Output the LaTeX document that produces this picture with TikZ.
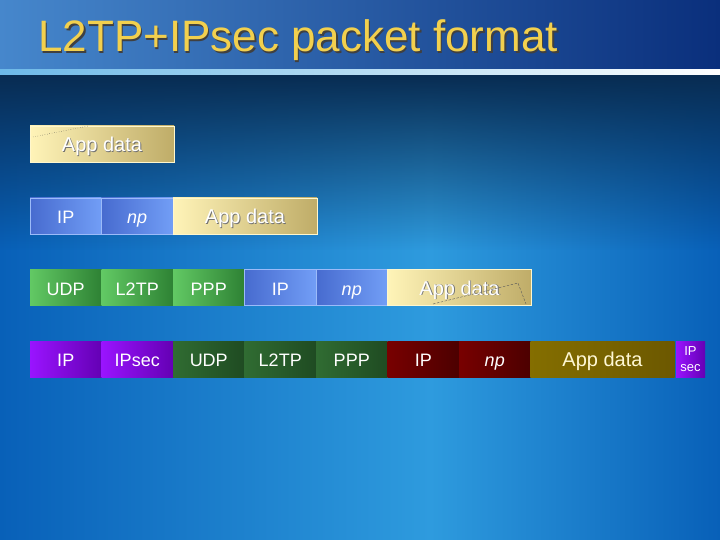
\documentclass[tikz,border=0pt]{standalone}
\usepackage{fontspec}
\setmainfont{Liberation Sans}
\usetikzlibrary{positioning, fadings}

\definecolor{bgedge}{HTML}{0860B8}
\definecolor{bgmid}{HTML}{2E9BDE}
\definecolor{bgtop}{HTML}{082C52}
\definecolor{barleft}{HTML}{4687CC}
\definecolor{barright}{HTML}{0A2F7C}
\definecolor{titleyellow}{HTML}{F2D04E}
\definecolor{ylight}{HTML}{FFF4B8}
\definecolor{ydark}{HTML}{BFAC68}
\definecolor{bluedark}{HTML}{476BCF}
\definecolor{bluelight}{HTML}{729EF6}
\definecolor{greenlight}{HTML}{62C964}
\definecolor{greendark}{HTML}{2E8234}
\definecolor{dgreenlight}{HTML}{306C32}
\definecolor{dgreendark}{HTML}{1F4B22}
\definecolor{redlight}{HTML}{780000}
\definecolor{reddark}{HTML}{4C0000}
\definecolor{olivelight}{HTML}{846E00}
\definecolor{olivedark}{HTML}{6C5800}
\definecolor{purplelight}{HTML}{9A14FF}
\definecolor{purpledark}{HTML}{6400B4}

% text with a small drop shadow
\newcommand{\shadowed}[3][black!55]{\makebox[0pt][l]{\hspace{#2}\raisebox{-#2}{\color{#1}#3}}#3}

\begin{document}
\begin{tikzpicture}[x=1pt, y=-1pt,
    cell/.style={minimum width=71.5pt, minimum height=36pt, inner sep=0pt, outer sep=0pt,
                 text height=17pt, text depth=2pt,
                 text=white, font=\fontsize{18}{20}\selectfont},
    appcell/.style={cell, minimum width=144pt, left color=ylight, right color=ydark,
                    draw=ylight!70!white, line width=0.5pt, font=\fontsize{20}{22}\selectfont},
    bluecell/.style={cell, left color=bluedark, right color=bluelight, draw=bluelight!70!white, line width=0.4pt},
    greencell/.style={cell, left color=greenlight, right color=greendark},
    dgreencell/.style={cell, left color=dgreenlight, right color=dgreendark},
    redcell/.style={cell, left color=redlight, right color=reddark},
    olivecell/.style={cell, minimum width=144pt, left color=olivelight, right color=olivedark,
                      text=ylight!60!white, font=\fontsize{20}{22}\selectfont},
    purplecell/.style={cell, left color=purplelight, right color=purpledark}]
  \useasboundingbox (0,0) rectangle (720,540);

  % background
  \begin{scope}
    \clip (0,0) rectangle (720,540);
    \shade[left color=bgedge, right color=bgmid] (0,0) rectangle (430,540);
    \shade[left color=bgmid, right color=bgedge] (430,0) rectangle (720,540);
    \fill[bgtop, path fading=south] (0,75) rectangle (720,250);
    \shade[left color=barleft, right color=barright] (0,0) rectangle (720,70);
    \shade[left color=bgmid!70!white, right color=white] (0,70) rectangle (720,75);
  \end{scope}

  \node[anchor=base west, text=titleyellow, font=\fontsize{44}{48}\selectfont, inner sep=0pt]
    (title) at (38,52) {\shadowed[black!75]{1.6pt}{L2TP+IPsec packet format}};

  % row 1
  \node[appcell] (app1) at (102,144) {\shadowed{0.9pt}{App data}};
  \draw[dotted, black!75] (33,137) -- (88,126);

  % row 2
  \node[bluecell] (ip2) at (65.75,216) {IP};
  \node[bluecell, right=0pt of ip2] (np2) {\textit{np}};
  \node[appcell, right=0pt of np2] (app2) {\shadowed{0.9pt}{App data}};

  % row 3
  \node[greencell] (udp3) at (65.75,287.5) {UDP};
  \node[greencell, right=0pt of udp3] (l2tp3) {L2TP};
  \node[greencell, right=0pt of l2tp3] (ppp3) {PPP};
  \node[bluecell, right=0pt of ppp3] (ip3) {IP};
  \node[bluecell, right=0pt of ip3] (np3) {\textit{np}};
  \node[appcell, right=0pt of np3] (app3) {\shadowed{0.9pt}{App data}};
  \draw[black!65, dash pattern=on 2.5pt off 1.5pt] (433,304) -- (518,283) -- (526,304);

  % row 4
  \node[purplecell] (ip4) at (65.75,359) {IP};
  \node[purplecell, right=0pt of ip4] (ipsec4) {IPsec};
  \node[dgreencell, right=0pt of ipsec4] (udp4) {UDP};
  \node[dgreencell, right=0pt of udp4] (l2tp4) {L2TP};
  \node[dgreencell, right=0pt of l2tp4] (ppp4) {PPP};
  \node[redcell, right=0pt of ppp4] (ipin4) {IP};
  \node[redcell, right=0pt of ipin4] (np4) {\textit{np}};
  \node[olivecell, right=0pt of np4] (app4) {App data};
  \node[purplecell, right=1.5pt of app4, minimum width=29pt, align=center,
        text height=, text depth=, font=\fontsize{13}{16}\selectfont] (trail4) {IP\\sec};
\end{tikzpicture}
\end{document}
